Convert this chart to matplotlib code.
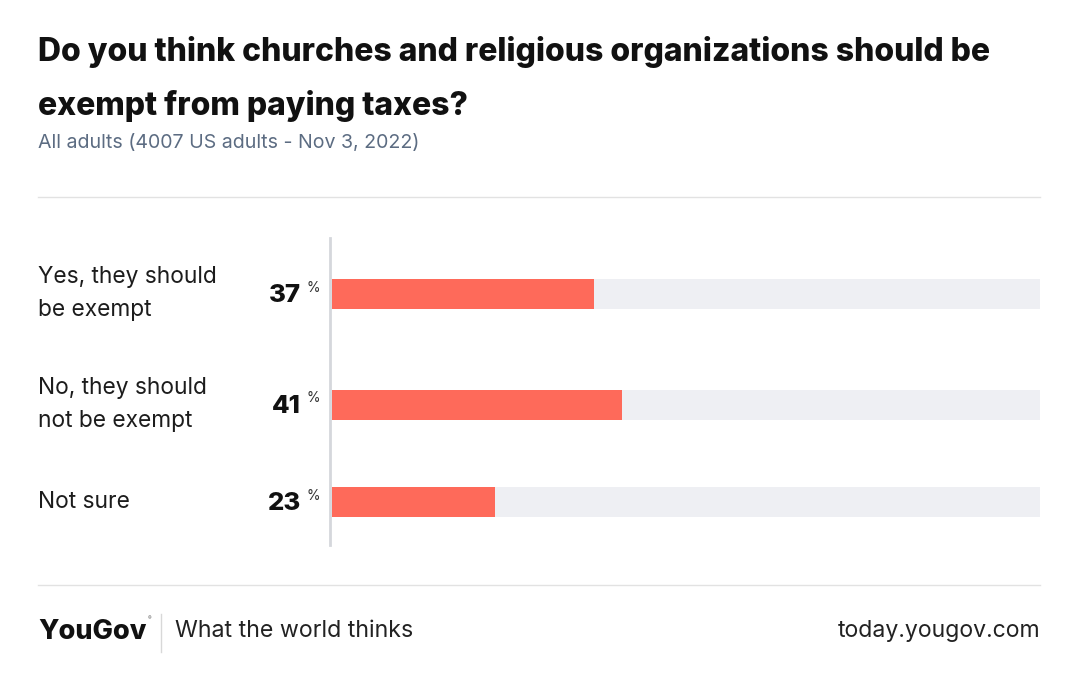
import numpy as np
import matplotlib.pyplot as plt
from matplotlib.lines import Line2D

# data
labels = ["Yes, they should\nbe exempt", "No, they should\nnot be exempt", "Not sure"]
values = [37, 41, 23]

title = "Do you think churches and religious organizations should be\nexempt from paying taxes?"
subtitle = "All adults (4007 US adults - Nov 3, 2022)"

W, H = 1080, 675
fig = plt.figure(figsize=(W / 100, H / 100), dpi=100)
fig.patch.set_facecolor("white")

def fx(px):
    return px / W

def fy(py):
    return 1 - py / H

# row heights depend on how many lines the label has
nlines = np.array([l.count("\n") + 1 for l in labels])
row_h = 55 + 28 * nlines
centers = np.cumsum(row_h) - row_h / 2
total = row_h.sum()

top, left, right = 238, 332, 1040
ax = fig.add_axes([fx(left), fy(top + total), fx(right - left), total / H])
ax.set_xlim(0, 100)
ax.set_ylim(total, 0)
ax.axis("off")

bar_h = 30
ax.barh(centers, [100] * len(values), height=bar_h, color="#eeeff3", zorder=1)
ax.barh(centers, values, height=bar_h, color="#fe6a5a", zorder=2)

for c, lab, v in zip(centers, labels, values):
    ax.annotate(lab, xy=(0, c), xycoords=("axes fraction", "data"),
                xytext=(38 - left, 0), textcoords="offset pixels",
                ha="left", va="center", fontsize=16.4, family="Inter",
                color="#1c1c1c", linespacing=1.7)
    ax.annotate(str(v), xy=(0, c), xycoords=("axes fraction", "data"),
                xytext=(-31, -2), textcoords="offset pixels",
                ha="right", va="center", fontsize=18.5, family="Inter",
                fontweight="heavy", color="#111111")
    ax.annotate("%", xy=(0, c), xycoords=("axes fraction", "data"),
                xytext=(-25, 6), textcoords="offset pixels",
                ha="left", va="center", fontsize=10, family="Inter",
                color="#333333")

# vertical axis line
fig.add_artist(Line2D([fx(330), fx(330)], [fy(238), fy(545)], color="#d5d7dc", lw=2))

# separators
for py in (197, 585):
    fig.add_artist(Line2D([fx(38), fx(1040)], [fy(py), fy(py)], color="#e2e2e2", lw=1))

# title block
fig.text(fx(38), fy(36), title, ha="left", va="top", fontsize=23, family="Inter",
         fontweight="heavy", color="#111111", linespacing=1.9)
fig.text(fx(38), fy(143), subtitle, ha="left", va="center", fontsize=14.1, family="Inter",
         color="#5c6c82")

# footer
fig.text(fx(38), fy(632), "YouGov", ha="left", va="center", fontsize=19.5, family="Inter",
         fontweight="heavy", color="#111111")
fig.text(fx(148), fy(619), "\u00ae", ha="left", va="center", fontsize=4, family="Inter",
         color="#555555")
fig.add_artist(Line2D([fx(161), fx(161)], [fy(614), fy(652)], color="#d8d8d8", lw=1))
fig.text(fx(175), fy(631), "What the world thinks", ha="left", va="center", fontsize=16.7,
         family="Inter", color="#222222")
fig.text(fx(1040), fy(631), "today.yougov.com", ha="right", va="center", fontsize=16.6,
         family="Inter", color="#222222")

fig.savefig("out.png", dpi=100, facecolor="white")
